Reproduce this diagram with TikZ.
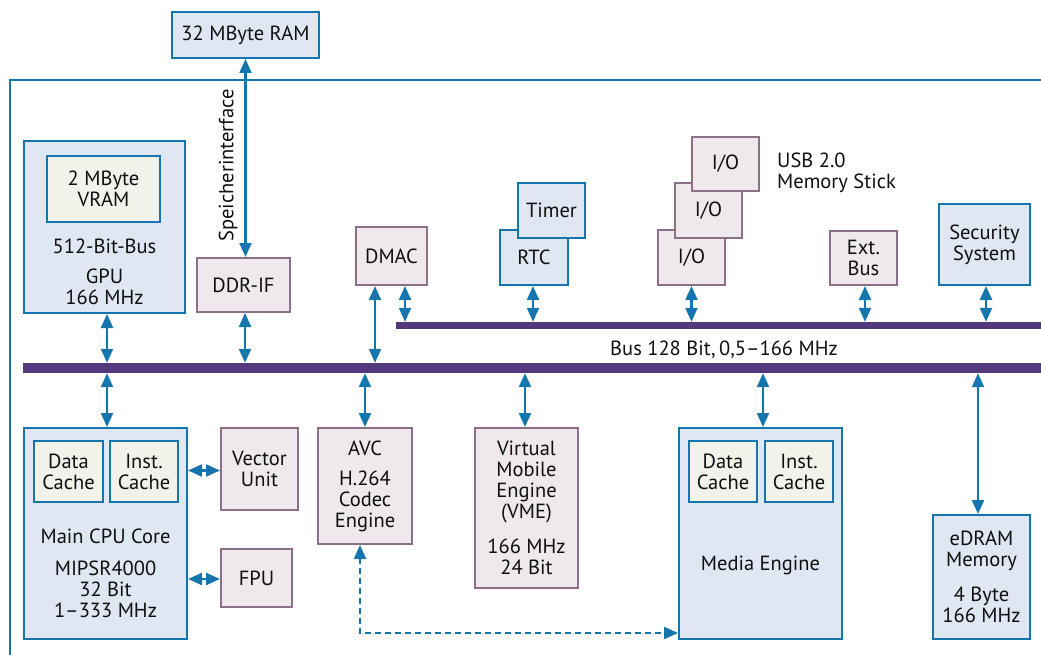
\documentclass[tikz,border=0pt]{standalone}
\usepackage{fontspec}
\setmainfont{PT Sans}
\usetikzlibrary{arrows.meta}
\definecolor{bl}{RGB}{20,118,172}
\definecolor{blfill}{RGB}{223,231,243}
\definecolor{cream}{RGB}{242,242,234}
\definecolor{mv}{RGB}{139,112,136}
\definecolor{mvfill}{RGB}{239,233,238}
\definecolor{busc}{RGB}{84,56,126}
\definecolor{txt}{RGB}{16,16,16}
\begin{document}
\begin{tikzpicture}[x=1pt,y=-1pt,
  every node/.style={font=\fontsize{20.5}{21}\selectfont, text=txt, align=center, inner sep=0pt},
  sz/.style 2 args={minimum width=#1pt, minimum height=#2pt},
  bbox/.style={draw=bl, fill=blfill, line width=2pt},
  cbox/.style={draw=bl, fill=cream, line width=2pt},
  mbox/.style={draw=mv, fill=mvfill, line width=2pt},
  busbar/.style={fill=busc, inner sep=0pt, anchor=west},
  dbl/.style={{Triangle[width=12pt,length=14pt]}-{Triangle[width=12pt,length=14pt]}, draw=bl, line width=2.2pt},
]
\useasboundingbox (0,0) rectangle (1041,655);
% outer frame
\draw[bl, line width=2pt] (10,660) -- (10,80) -- (1045,80);

% buses
\node[busbar, sz={1018}{10}] (mainbus) at (23,368) {};
\node[busbar, sz={645}{7}] (upbus) at (396,325.5) {};
\node (buslbl) at (724,350) {Bus 128 Bit,\,0,5–166 MHz};

% top
\node[bbox, sz={147}{46}] (ram) at (245.5,35) {32 MByte RAM};
\node[bbox, sz={161}{172}] (gpu) at (104.5,227) {};
\node[cbox, sz={113}{66}] (vram) at (103.5,189) {2 MByte\\VRAM};
\node (gpubus) at (104.5,246) {512-Bit-Bus};
\node (gputxt) at (104.5,287) {GPU\\166 MHz};
\node[mbox, sz={93}{54}] (ddrif) at (243.5,285) {DDR-IF};
\node[rotate=90] (spk) at (228,165.5) {Speicherinterface};
\node[mbox, sz={71}{58}] (dmac) at (391.5,256) {DMAC};
\node[bbox, sz={68}{55}] (rtc) at (534,257.5) {RTC};
\node[bbox, sz={67}{55}] (timer) at (551.5,210.5) {Timer};
\node[mbox, sz={67}{55}] (io1) at (691.5,257.5) {I/O};
\node[mbox, sz={67}{55}] (io2) at (708.5,210.5) {I/O};
\node[mbox, sz={67}{54}] (io3) at (725.5,164) {I/O};
\node[anchor=west, align=left] (usb) at (777,173) {USB 2.0\\Memory Stick};
\node[mbox, sz={67}{54}] (ext) at (863.5,258) {Ext.\\Bus};
\node[bbox, sz={91}{81}] (sec) at (984.5,244.5) {Security\\System};

% bottom
\node[bbox, sz={163}{211}] (cpu) at (105.5,533.5) {};
\node[cbox, sz={69}{61}] (cdata) at (68.5,471.5) {Data\\Cache};
\node[cbox, sz={68}{61}] (cinst) at (144,471.5) {Inst.\\Cache};
\node (cputitle) at (105.5,536) {Main CPU Core};
\node (cputxt) at (105.5,589) {MIPSR4000\\32 Bit\\1–333 MHz};
\node[mbox, sz={77}{82}] (vec) at (259.5,469) {Vector\\Unit};
\node[mbox, sz={71}{58}] (fpu) at (256.5,578) {FPU};
\node[mbox, sz={94}{116}] (avc) at (365,486) {};
\node (avct) at (365,448) {AVC};
\node (avctxt) at (365,501) {H.264\\Codec\\Engine};
\node[mbox, sz={103}{160}] (vme) at (526.5,508) {};
\node (vmet) at (526.5,481.5) {Virtual\\Mobile\\Engine\\(VME)};
\node (vmetxt) at (526.5,556.5) {166 MHz\\24 Bit};
\node[bbox, sz={163}{211}] (media) at (760.5,533.5) {};
\node[cbox, sz={68}{61}] (mdata) at (723,471.5) {Data\\Cache};
\node[cbox, sz={68}{61}] (minst) at (799,471.5) {Inst.\\Cache};
\node (mediat) at (760.5,565) {Media Engine};
\node[bbox, sz={97}{124}] (edram) at (981.5,577) {};
\node (edt) at (981.5,551) {eDRAM\\Memory};
\node (edtxt) at (981.5,605) {4 Byte\\166 MHz};

% connectors
\draw[dbl] (ram.south) -- (ram.south |- ddrif.north);
\draw[dbl] ([xshift=2.5pt]gpu.south) -- ([xshift=2.5pt]gpu.south |- mainbus.north);
\draw[dbl] ([xshift=1.5pt]ddrif.south) -- ([xshift=1.5pt]ddrif.south |- mainbus.north);
\draw[dbl] ([xshift=-16.5pt]dmac.south) -- ([xshift=-16.5pt]dmac.south |- mainbus.north);
\draw[dbl] ([xshift=13.5pt]dmac.south) -- ([xshift=13.5pt]dmac.south |- upbus.north);
\draw[dbl] ([xshift=-1pt]rtc.south) -- ([xshift=-1pt]rtc.south |- upbus.north);
\draw[dbl] (io1.south) -- (io1.south |- upbus.north);
\draw[dbl] ([xshift=1.5pt]ext.south) -- ([xshift=1.5pt]ext.south |- upbus.north);
\draw[dbl] ([xshift=1.5pt]sec.south) -- ([xshift=1.5pt]sec.south |- upbus.north);
\draw[dbl] ([xshift=1.5pt]cpu.north) -- ([xshift=1.5pt]cpu.north |- mainbus.south);
\draw[dbl] (avc.north) -- (avc.north |- mainbus.south);
\draw[dbl] ([xshift=-1.5pt]vme.north) -- ([xshift=-1.5pt]vme.north |- mainbus.south);
\draw[dbl] ([xshift=2.5pt]media.north) -- ([xshift=2.5pt]media.north |- mainbus.south);
\draw[dbl] ([xshift=-3.5pt]edram.north) -- ([xshift=-3.5pt]edram.north |- mainbus.south);
\draw[dbl] ([yshift=-1.5pt]cpu.east |- vec.west) -- ([yshift=-1.5pt]vec.west);
\draw[dbl] ([yshift=-1pt]cpu.east |- fpu.west) -- ([yshift=-1pt]fpu.west);
\coordinate (dc) at (360,633);
\draw[dbl, dash pattern=on 6pt off 4pt] ([xshift=-5pt]avc.south) |- (media.west |- dc);
\end{tikzpicture}
\end{document}
